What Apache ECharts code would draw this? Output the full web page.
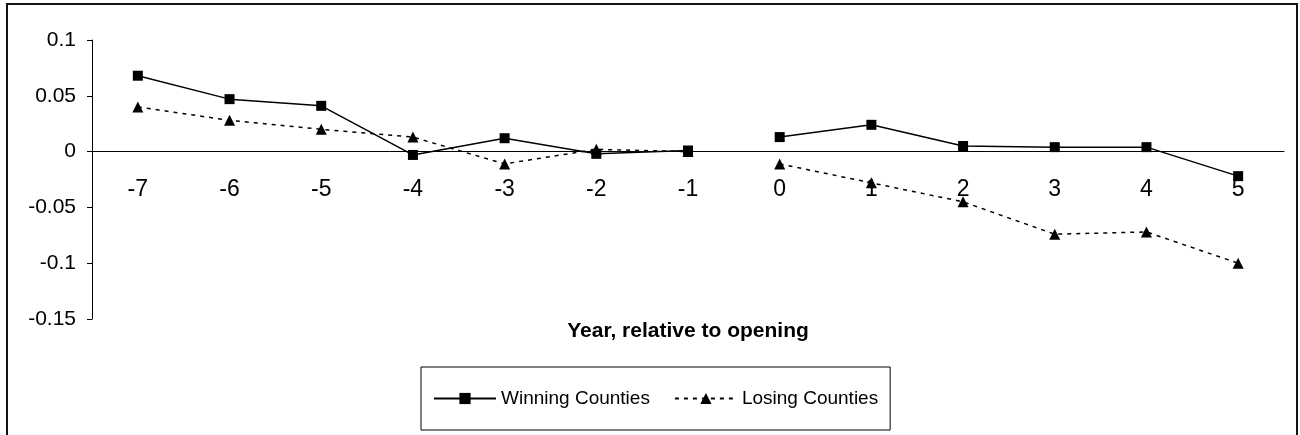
<!DOCTYPE html>
<html>
<head>
<meta charset="utf-8">
<script src="https://cdn.jsdelivr.net/npm/echarts@6/dist/echarts.min.js"></script>
<style>
  html, body { margin: 0; padding: 0; background: #fff; }
  #chart { width: 1300px; height: 435px; }
</style>
</head>
<body>
<div id="chart"></div>
<script>
// 年份（相对开业）
const years = ['-7', '-6', '-5', '-4', '-3', '-2', '-1', '0', '1', '2', '3', '4', '5'];

// 两组县的数值
const winning = [0.068, 0.047, 0.041, -0.003, 0.012, -0.002, 0.001, 0.013, 0.024, 0.005, 0.004, 0.004, -0.022];
const losing = [0.040, 0.028, 0.020, 0.013, -0.011, 0.002, 0.000, -0.011, -0.028, -0.045, -0.074, -0.072, -0.100];

// 开业前后断开连线
const breakAt = years.indexOf('0');

const FONT = 'Liberation Sans, Arial, sans-serif';

// 绘图区
const GRID_TOP = 40;
const GRID_BOTTOM = 116;
const CHART_H = 435;
const Y_MIN = -0.15;
const Y_MAX = 0.1;

// x 轴放在 0 线上（v6 中 onZero 不带动标签，用 offset 代替）
const plotH = CHART_H - GRID_TOP - GRID_BOTTOM;
const zeroOffset = -plotH * (0 - Y_MIN) / (Y_MAX - Y_MIN);

function splitSeries(values) {
    const before = values.map((v, i) => (i < breakAt ? v : null));
    const after = values.map((v, i) => (i >= breakAt ? v : null));
    return [before, after];
}

function makeSeries(name, values, symbol, size, lineType) {
    return splitSeries(values).map(part => ({
        name: name,
        type: 'line',
        data: part,
        symbol: symbol,
        symbolSize: size,
        connectNulls: false,
        itemStyle: { color: '#000' },
        lineStyle: { color: '#000', width: 1.5, type: lineType },
        emphasis: { disabled: true },
        z: symbol === 'rect' ? 3 : 2
    }));
}

const chart = echarts.init(document.getElementById('chart'), null, { renderer: 'canvas' });

chart.setOption({
    animation: false,
    backgroundColor: '#fff',
    textStyle: { fontFamily: FONT, color: '#000' },
    grid: { left: 92, right: 16, top: GRID_TOP, bottom: GRID_BOTTOM, containLabel: false, outerBoundsMode: 'none' },
    xAxis: {
        type: 'category',
        data: years,
        boundaryGap: true,
        offset: zeroOffset,
        axisLine: { onZero: false, lineStyle: { color: '#000', width: 1 } },
        axisTick: { show: false },
        axisLabel: { fontSize: 23, color: '#000', margin: 27, fontFamily: FONT },
        splitLine: { show: false },
        name: 'Year, relative to opening',
        nameLocation: 'middle',
        nameGap: 169,
        nameTextStyle: { fontSize: 21, fontWeight: 'bold', color: '#000', fontFamily: FONT }
    },
    yAxis: {
        type: 'value',
        min: Y_MIN,
        max: Y_MAX,
        interval: 0.05,
        axisLine: { show: true, lineStyle: { color: '#000', width: 1 } },
        axisTick: { show: true, length: 5, inside: false, lineStyle: { color: '#000' } },
        axisLabel: { fontSize: 21, color: '#000', margin: 16, fontFamily: FONT },
        splitLine: { show: false }
    },
    legend: {
        data: ['Winning Counties', 'Losing Counties'],
        left: 421,
        top: 367,
        orient: 'horizontal',
        padding: [22, 12],
        itemGap: 24,
        itemWidth: 62,
        itemHeight: 14,
        borderColor: '#000',
        borderWidth: 1,
        borderRadius: 0,
        textStyle: { fontSize: 19, color: '#000', fontFamily: FONT }
    },
    graphic: [{
        type: 'rect',
        shape: { x: 7, y: 4, width: 1290, height: 470 },
        style: { fill: 'none', stroke: '#111', lineWidth: 2 },
        silent: true,
        z: -1
    }],
    series: [
        ...makeSeries('Winning Counties', winning, 'rect', 10, 'solid'),
        ...makeSeries('Losing Counties', losing, 'triangle', 11, [4, 5])
    ]
});
</script>
</body>
</html>
